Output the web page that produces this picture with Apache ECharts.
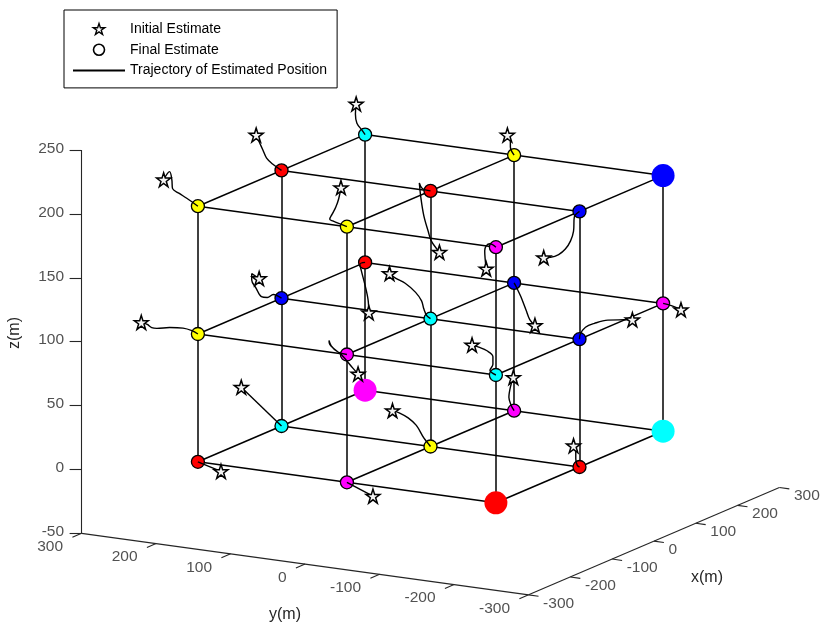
<!DOCTYPE html>
<html><head><meta charset="utf-8">
<script src="https://cdn.jsdelivr.net/npm/echarts@6/dist/echarts.min.js"></script>
<style>html,body{margin:0;padding:0;background:#fff}#c{width:831px;height:639px}</style>
</head><body><div id="c"></div><script>
// ---------------- data (metres) ----------------
const xLim = [-300, 300];
const yLim = [-300, 300];
const zLim = [-50, 250];
const xTicks = [-300, -200, -100, 0, 100, 200, 300];
const yTicks = [-300, -200, -100, 0, 100, 200, 300];
const zTicks = [-50, 0, 50, 100, 150, 200, 250];
const gridXY = [-200, 0, 200];
const gridZ = [0, 100, 200];

// final estimates (27 nodes)
const finalX = [-200,0,200,-200,0,200,-200,0,200, -200,0,200,-200,0,200,-200,0,200, -200,0,200,-200,0,200,-200,0,200];
const finalY = [200,200,200,0,0,0,-200,-200,-200, 200,200,200,0,0,0,-200,-200,-200, 200,200,200,0,0,0,-200,-200,-200];
const finalZ = [0,0,0,0,0,0,0,0,0, 100,100,100,100,100,100,100,100,100, 200,200,200,200,200,200,200,200,200];
const finalColor = ['red','cyan','magenta','magenta','yellow','magenta','red','red','cyan',
                    'yellow','blue','red','magenta','cyan','blue','cyan','blue','magenta',
                    'yellow','red','cyan','yellow','red','yellow','magenta','blue','blue'];
const anchorFlag = [0,0,1,0,0,0,1,0,1, 0,0,0,0,0,0,0,0,0, 0,0,0,0,0,0,0,0,1];

// trajectories: initial estimate first, final estimate last, [x, y, z]
const T01 = [[200,212,223],[200,213,215],[200,211,208],[200,204,203],[200,200,200]];
const T02 = [[0,234,225],[0,230,220],[0,225,214],[0,220,208],[0,212,204],[0,200,200]];
const T03 = [[-200,246,217],[-200,238,224],[-200,235,218],[-200,234,211],[-200,225,208],[-200,215,205],[-200,200,200]];
const T04 = [[-200,8,230],[-200,11,221],[-200,15,214],[-200,20,208],[-200,23,204],[-200,19,203],[-200,0,200]];
const T05 = [[200,9,215],[200,5,211],[200,5,206],[200,0,200]];
const T06 = [[0,-12,153],[0,-1,161],[0,3,168],[0,9,180],[0,13,194],[0,15,205],[0,11,201],[0,0,200]];
const T07 = [[0,-152,160],[0,-161,161],[0,-172,164],[0,-181,169],[0,-188,176],[0,-192,184],[0,-193,195],[0,-200,200]];
const T08 = [[-200,-187,182],[-200,-185,196],[-200,-187,200],[-200,-192,202],[-200,-200,200]];
const T09 = [[0,230,113],[0,240,116],[0,240,111],[0,234,105],[0,227,99],[0,219,99],[0,211,102],[0,200,100]];
const T10 = [[-200,276,103],[-200,268,102],[-200,262,100],[-200,255,100],[-200,238,102],[-200,220,103],[-200,208,102],[-200,200,100]];
const T11 = [[200,195,61],[200,196,71],[200,200,82],[200,205,93],[200,207,98],[200,200,100]];
const T12 = [[0,55,131],[0,47,128],[0,34,125],[0,20,119],[0,12,113],[0,9,107],[0,5,102],[0,0,100]];
const T13 = [[200,-28,69],[200,-21,73],[200,-16,80],[200,-9,90],[200,-3,97],[200,0,100]];
const T14 = [[0,-271,121],[0,-260,120],[0,-238,118],[0,-220,114],[0,-208,110],[0,-201,104],[0,-200,100]];
const T15 = [[200,-224,97],[200,-212,99],[200,-200,100]];
const T16 = [[-200,-168,121],[-200,-177,120],[-200,-188,118],[-200,-196,114],[-200,-196,108],[-200,-192,103],[-200,-200,100]];
const T17 = [[-200,-15,86],[-200,-8,90],[-200,7,99],[-200,17,103],[-200,23,106],[-200,24,109],[-200,21,105],[-200,12,101],[-200,0,100]];
const T18 = [[0,254,26],[0,200,0]];
const T19 = [[0,51,24],[0,42,23],[0,30,20],[0,19,15],[0,9,6],[0,3,2],[0,0,0]];
const T20 = [[200,1,26],[200,5,18],[200,7,10],[200,4,4],[200,0,0]];
const T21 = [[0,-192,16],[0,-195,11],[0,-195,6],[0,-197,1],[0,-200,0]];
const T22 = [[-200,169,-5],[-200,200,0]];
const T23 = [[-200,-35,-8],[-200,0,0]];
const trajectories = [T01,T02,T03,T04,T05,T06,T07,T08,T09,T10,T11,T12,T13,T14,T15,T16,T17,T18,T19,T20,T21,T22,T23];

// ---------------- view (orthographic projection onto the screen plane) ----------------
const viewOrigin = [430.5, 446.5];
const eX = [0.418, -0.179], eY = [-0.745, -0.1025], eZ = [0, -1.278];
function P(x, y, z) {
  return [viewOrigin[0] + x * eX[0] + y * eY[0] + z * eZ[0],
          viewOrigin[1] + x * eX[1] + y * eY[1] + z * eZ[1]];
}
const COLORS = {red:'#ff0000', yellow:'#ffff00', cyan:'#00ffff', magenta:'#ff00ff', blue:'#0000ff'};
const FONT = "'Liberation Sans', Arial, Helvetica, sans-serif";
const AXC = '#262626';
const STAR = 'path://M0,-10 L2.245,-3.09 L9.511,-3.09 L3.633,1.18 L5.878,8.09 L0,3.82 L-5.878,8.09 L-3.633,1.18 L-9.511,-3.09 L-2.245,-3.09 Z';
const TRAJ = 'Trajectory of Estimated Position';

// grid lines of the node lattice
const gridSegs = [];
gridZ.forEach(z => gridXY.forEach(v => {
  gridSegs.push({coords: [P(gridXY[0], v, z), P(gridXY[2], v, z)]});
  gridSegs.push({coords: [P(v, gridXY[0], z), P(v, gridXY[2], z)]});
}));
gridXY.forEach(x => gridXY.forEach(y => gridSegs.push({coords: [P(x, y, gridZ[0]), P(x, y, gridZ[2])]})));

// axes lines and tick marks
const axisSegs = [
  {coords: [P(xLim[0], yLim[1], zLim[0]), P(xLim[0], yLim[1], zLim[1])]},
  {coords: [P(xLim[0], yLim[1], zLim[0]), P(xLim[0], yLim[0], zLim[0])]},
  {coords: [P(xLim[0], yLim[0], zLim[0]), P(xLim[1], yLim[0], zLim[0])]}
];
const zTickPts = zTicks.map(t => P(xLim[0], yLim[1], t));
const yTickPts = yTicks.map(t => P(xLim[0], t, zLim[0]));
const xTickPts = xTicks.map(t => P(t, yLim[0], zLim[0]));
zTickPts.forEach(p => axisSegs.push({coords: [p, [p[0] - 12, p[1]]]}));
yTickPts.forEach(p => axisSegs.push({coords: [p, [p[0] - 9.2, p[1] + 3.9]]}));
xTickPts.forEach(p => axisSegs.push({coords: [p, [p[0] + 9.9, p[1] + 1.4]]}));

function labelSeries(pts, ticks, align, offset) {
  return {
    type: 'scatter', silent: true, symbolSize: 1, z: 1,
    itemStyle: {color: 'rgba(0,0,0,0)'},
    data: pts.map((p, i) => ({value: p, name: String(ticks[i])})),
    label: {show: true, position: [0, 0], formatter: d => d.name, align: align, verticalAlign: 'middle',
            offset: offset, fontSize: 15.5, fontFamily: FONT, color: AXC}
  };
}

const smallNodes = [], anchors = [];
finalX.forEach((x, i) => {
  const item = {value: P(x, finalY[i], finalZ[i]), itemStyle: {color: COLORS[finalColor[i]]}};
  (anchorFlag[i] ? anchors : smallNodes).push(item);
});

const series = [
  {type: 'lines', coordinateSystem: 'cartesian2d', silent: true, z: 1, data: axisSegs,
   lineStyle: {color: AXC, width: 1.1, opacity: 1}},
  labelSeries(zTickPts, zTicks, 'right', [-17, -1]),
  labelSeries(yTickPts, yTicks, 'right', [-18, 14]),
  labelSeries(xTickPts, xTicks, 'left', [15, 9]),
  {type: 'lines', coordinateSystem: 'cartesian2d', silent: true, z: 2, data: gridSegs,
   lineStyle: {color: '#000', width: 1.5, opacity: 1}},
  {name: 'Anchors', type: 'scatter', silent: true, z: 3, symbol: 'circle', symbolSize: 23, data: anchors,
   itemStyle: {opacity: 1}},
  {name: 'Final Estimate', type: 'scatter', silent: true, z: 4, symbol: 'circle', symbolSize: 13, data: smallNodes,
   itemStyle: {borderColor: '#000', borderWidth: 1.3, opacity: 1}}
];
trajectories.forEach(tr => series.push({
  name: TRAJ, type: 'line', silent: true, z: 5, smooth: 0.35, symbol: 'none', showSymbol: false,
  data: tr.map(p => P(p[0], p[1], p[2])),
  lineStyle: {color: '#000', width: 1.4}, itemStyle: {color: '#000'}
}));
series.push({
  name: 'Initial Estimate', type: 'scatter', silent: true, z: 6, symbol: STAR, symbolSize: 14,
  data: trajectories.map(tr => P(tr[0][0], tr[0][1], tr[0][2])),
  itemStyle: {color: '#f4f4f4', borderColor: '#000', borderWidth: 1.5, opacity: 1}
});

const chart = echarts.init(document.getElementById('c'));
chart.setOption({
  animation: false,
  backgroundColor: '#fff',
  grid: {left: 0, right: 0, top: 0, bottom: 0},
  xAxis: {type: 'value', min: 0, max: 831, show: false},
  yAxis: {type: 'value', min: 0, max: 639, inverse: true, show: false},
  legend: {
    orient: 'vertical', left: 64, top: 10, padding: [12, 10, 10.5, 8], itemGap: 6.7,
    itemWidth: 52, itemHeight: 11, selectedMode: false,
    borderColor: '#000', borderWidth: 1, backgroundColor: '#fff',
    textStyle: {fontSize: 14, fontFamily: FONT, color: '#000'},
    data: [
      {name: 'Initial Estimate', icon: STAR, itemStyle: {color: '#fff', borderColor: '#000', borderWidth: 1.4}},
      {name: 'Final Estimate', icon: 'circle', itemStyle: {color: '#fff', borderColor: '#000', borderWidth: 1.6}},
      {name: TRAJ, itemStyle: {color: 'rgba(0,0,0,0)', borderColor: 'rgba(0,0,0,0)', borderWidth: 0}}
    ]
  },
  graphic: [
    {type: 'text', x: 15, y: 333, rotation: Math.PI / 2,
     style: {text: 'z(m)', font: '16px ' + FONT, fill: AXC, textAlign: 'center', textVerticalAlign: 'middle'}},
    {type: 'text', x: 285, y: 615,
     style: {text: 'y(m)', font: '16px ' + FONT, fill: AXC, textAlign: 'center', textVerticalAlign: 'middle'}},
    {type: 'text', x: 707, y: 578,
     style: {text: 'x(m)', font: '16px ' + FONT, fill: AXC, textAlign: 'center', textVerticalAlign: 'middle'}}
  ],
  series: series
});
</script></body></html>
